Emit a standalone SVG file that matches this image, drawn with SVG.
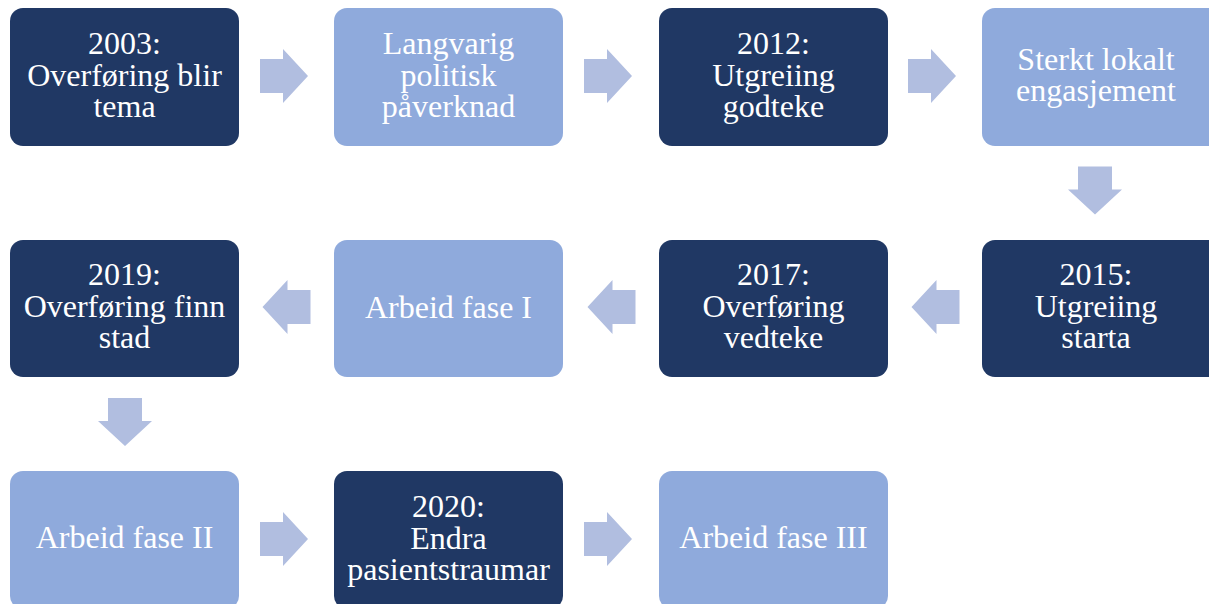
<svg xmlns="http://www.w3.org/2000/svg" width="1209" height="604" viewBox="0 0 1209 604">
<style>
.dark{fill:#203864}
.light{fill:#8FAADC}
.arr{fill:#B1BEE0}
text{font-family:"Liberation Serif","Times New Roman",serif;font-size:32px;fill:#FFFFFF;text-anchor:middle}
</style>
<defs>
<path id="ar" d="M-24,-17 H-1 V-27 L24,0 L-1,27 V17 H-24 Z"/>
</defs>
<rect width="1209" height="604" fill="#FFFFFF"/>
<g id="connectors">
<use href="#ar" class="arr" transform="translate(284,76)"/>
<use href="#ar" class="arr" transform="translate(608,76)"/>
<use href="#ar" class="arr" transform="translate(932,76)"/>
<use href="#ar" class="arr" transform="translate(1095,190.5) rotate(90)"/>
<use href="#ar" class="arr" transform="translate(935.5,307) rotate(180)"/>
<use href="#ar" class="arr" transform="translate(611.5,307) rotate(180)"/>
<use href="#ar" class="arr" transform="translate(286.5,307) rotate(180)"/>
<use href="#ar" class="arr" transform="translate(125,422) rotate(90)"/>
<use href="#ar" class="arr" transform="translate(284,539)"/>
<use href="#ar" class="arr" transform="translate(608,539)"/>
</g>
<g id="n2003">
<rect x="10" y="8" width="229" height="138" rx="13" class="dark"/>
<text x="124.5"><tspan x="124.5" y="54">2003:</tspan><tspan x="124.5" y="86">Overføring blir</tspan><tspan x="124.5" y="117">tema</tspan></text>
</g>
<g id="nLangvarig">
<rect x="334" y="8" width="229" height="138" rx="13" class="light"/>
<text><tspan x="448.5" y="54">Langvarig</tspan><tspan x="448.5" y="86">politisk</tspan><tspan x="448.5" y="117">påverknad</tspan></text>
</g>
<g id="n2012">
<rect x="659" y="8" width="229" height="138" rx="13" class="dark"/>
<text><tspan x="773.5" y="54">2012:</tspan><tspan x="773.5" y="86">Utgreiing</tspan><tspan x="773.5" y="117">godteke</tspan></text>
</g>
<g id="nSterkt">
<rect x="982" y="8" width="240" height="138" rx="13" class="light"/>
<text><tspan x="1096" y="70">Sterkt lokalt</tspan><tspan x="1096" y="101">engasjement</tspan></text>
</g>
<g id="n2015">
<rect x="982" y="240" width="240" height="137" rx="13" class="dark"/>
<text><tspan x="1096" y="285">2015:</tspan><tspan x="1096" y="317">Utgreiing</tspan><tspan x="1096" y="348">starta</tspan></text>
</g>
<g id="n2017">
<rect x="659" y="240" width="229" height="137" rx="13" class="dark"/>
<text><tspan x="773.5" y="285">2017:</tspan><tspan x="773.5" y="317">Overføring</tspan><tspan x="773.5" y="348">vedteke</tspan></text>
</g>
<g id="nFaseI">
<rect x="334" y="240" width="229" height="137" rx="13" class="light"/>
<text x="448.5" y="318">Arbeid fase I</text>
</g>
<g id="n2019">
<rect x="10" y="240" width="229" height="137" rx="13" class="dark"/>
<text><tspan x="124.5" y="285">2019:</tspan><tspan x="124.5" y="317">Overføring finn</tspan><tspan x="124.5" y="348">stad</tspan></text>
</g>
<g id="nFaseII">
<rect x="10" y="471" width="229" height="138" rx="13" class="light"/>
<text x="124.5" y="548">Arbeid fase II</text>
</g>
<g id="n2020">
<rect x="334" y="471" width="229" height="138" rx="13" class="dark"/>
<text><tspan x="448.5" y="517">2020:</tspan><tspan x="448.5" y="549">Endra</tspan><tspan x="448.5" y="580">pasientstraumar</tspan></text>
</g>
<g id="nFaseIII">
<rect x="659" y="471" width="229" height="138" rx="13" class="light"/>
<text x="773.5" y="548">Arbeid fase III</text>
</g>
</svg>
